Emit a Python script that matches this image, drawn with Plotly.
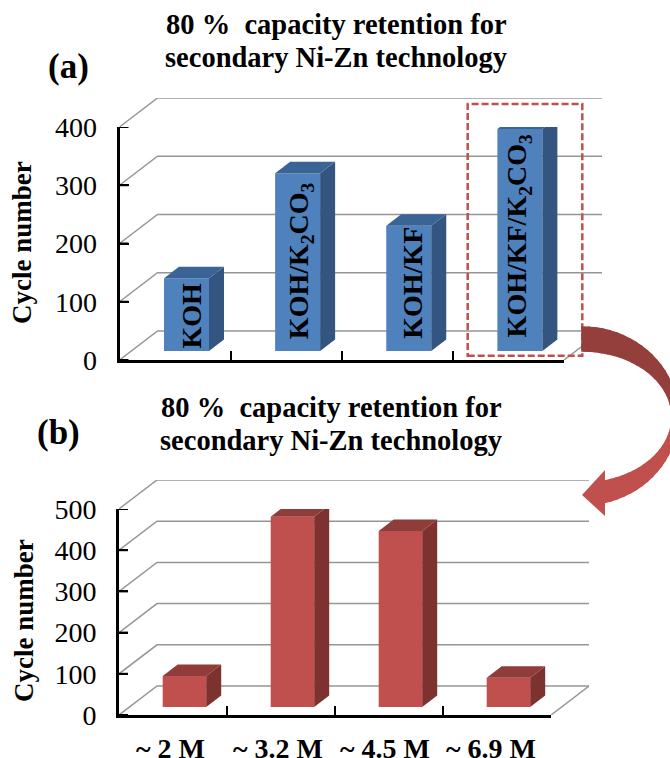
import numpy as np
import plotly.graph_objects as go

W, H = 670, 758
FONT = "Liberation Serif"

# ---- data ----
cats_a = ["KOH", "KOH/K<sub>2</sub>CO<sub>3</sub>", "KOH/KF", "KOH/KF/K<sub>2</sub>CO<sub>3</sub>"]
vals_a = [125, 305, 215, 381]
ticks_a = [0, 100, 200, 300, 400]

cats_b = ["~ 2 M", "~ 3.2 M", "~ 4.5 M", "~ 6.9 M"]
vals_b = [75, 462, 427, 71]
ticks_b = [0, 100, 200, 300, 400, 500]

title_1 = "80 %\u00a0\u00a0capacity retention for"
title_2 = "secondary Ni-Zn technology"
y_title = "Cycle number"

BLUE = dict(front="#4f81bd", side="#34557f", top="#3b6496")
RED = dict(front="#c0504d", side="#7d3230", top="#8f3c3b")
GRID = "#969696"


def px(x):
    return x / W


def py(y):
    return 1 - y / H


fig = go.Figure()
shapes, notes = [], []


def panel(idx, cats, vals, ticks, x0, xend, y0, ytop, wall_dx, wall_dy, bar_dx, bar_dy,
          bar_left, bar_w, bar_base, colors):
    """pixel geometry only sets the axes' domains; marks use the data scales."""
    ncat = len(cats)
    xs = (xend - x0) / ncat            # px per category
    ys = (y0 - ytop) / ticks[-1]       # px per unit
    xa = [f"x{idx+1}" if idx else "x", f"x{idx+2}"]
    ya = [f"y{idx+1}" if idx else "y", f"y{idx+2}"]
    dom_x = [px(x0), px(xend)]
    dom_y = [py(y0), py(ytop)]

    # walls, in the first (lower) subplot
    ddx, ddy = wall_dx / xs, wall_dy / ys
    gx, gy = [], []
    for v in ticks:
        gx += [0, ddx, ncat + ddx, None]
        gy += [v, v + ddy, v + ddy, None]
    gx += [ncat, ncat + ddx, None]
    gy += [0, ddy, None]
    fig.add_trace(go.Scatter(x=gx, y=gy, mode="lines", xaxis=xa[0], yaxis=ya[0], cliponaxis=False,
                             line=dict(color=GRID, width=1.5), hoverinfo="skip", showlegend=False))

    # bars
    base = bar_base / ys
    width = bar_w / xs
    off = (bar_left - x0) / xs
    centers = [i + off + width / 2 for i in range(ncat)]
    fig.add_trace(go.Bar(x=centers, y=vals, base=[base] * ncat, width=width, xaxis=xa[1], yaxis=ya[1],
                         cliponaxis=False, marker=dict(color=colors["front"], line=dict(width=0)),
                         showlegend=False, hoverinfo="y"))
    bdx, bdy = bar_dx / xs, bar_dy / ys
    for c, v in zip(centers, vals):
        l, r, b, t = c - width / 2, c + width / 2, base, base + v
        fig.add_trace(go.Scatter(x=[r, r + bdx, r + bdx, r, r], y=[b, b + bdy, t + bdy, t, b], mode="lines",
                                 fill="toself", fillcolor=colors["side"], line=dict(width=0),
                                 xaxis=xa[1], yaxis=ya[1], cliponaxis=False, hoverinfo="skip", showlegend=False))
        fig.add_trace(go.Scatter(x=[l, r, r + bdx, l + bdx, l], y=[t, t, t + bdy, t + bdy, t], mode="lines",
                                 fill="toself", fillcolor=colors["top"], line=dict(width=0),
                                 xaxis=xa[1], yaxis=ya[1], cliponaxis=False, hoverinfo="skip", showlegend=False))

    # short inward marks at each value tick
    tx, ty = [], []
    for v in ticks:
        tx += [0, 9 / xs, None]
        ty += [v, v, None]
    fig.add_trace(go.Scatter(x=tx, y=ty, mode="lines", xaxis=xa[1], yaxis=ya[1], cliponaxis=False,
                             line=dict(color="black", width=2), hoverinfo="skip", showlegend=False))

    # axes
    wall_xdom = [px(x0), px(xend + wall_dx)]
    wall_ydom = [py(y0), py(ytop - wall_dy)]
    lay = {}
    sfx = lambda n: "" if n == 1 else str(n)
    lay[f"xaxis{sfx(idx+1)}"] = dict(domain=wall_xdom, range=[0, ncat + ddx], visible=False, anchor=ya[0])
    lay[f"yaxis{sfx(idx+1)}"] = dict(domain=wall_ydom, range=[0, ticks[-1] + ddy], visible=False, anchor=xa[0])
    lay[f"xaxis{sfx(idx+2)}"] = dict(domain=dom_x, range=[0, ncat], anchor=ya[1], showgrid=False, zeroline=False,
                                     showline=True, linecolor="black", linewidth=3,
                                     tickmode="array", tickvals=list(range(ncat + 1)), showticklabels=False,
                                     ticks="inside", ticklen=9, tickwidth=2, tickcolor="black")
    lay[f"yaxis{sfx(idx+2)}"] = dict(domain=dom_y, range=[0, ticks[-1]], anchor=xa[1], showgrid=False, zeroline=False,
                                     showline=True, linecolor="black", linewidth=3,
                                     tickmode="array", tickvals=ticks,
                                     ticktext=[f"{v}\u00a0\u00a0" for v in ticks],
                                     ticks="inside", ticklen=9, tickwidth=2, tickcolor="black",
                                     tickfont=dict(family=FONT, size=28, color="black"))
    fig.update_layout(**lay)
    return xa[1], ya[1], centers, base


# panel (a)
xa, ya, ca, ba = panel(1 - 1, cats_a, vals_a, ticks_a, 119.5, 564, 360, 127, 38, 29, 15, 11.5, 164, 45, 9, BLUE)
pad_a = [0, 10, 10, 12]
shift_a = [4, 3, 3, -1]
for c, t, p, s in zip(ca, cats_a, pad_a, shift_a):
    notes.append(dict(x=c, y=ba, xref=xa, yref=ya, text=f"<b>{t}</b>", textangle=-90, showarrow=False,
                      xanchor="center", yanchor="bottom", yshift=p, xshift=s,
                      font=dict(family=FONT, size=28, color="black")))

# panel (b)
xb, yb, cb, bb = panel(3 - 1, cats_b, vals_b, ticks_b, 119, 551, 715, 509, 38, 29, 15, 11.5, 162.7, 43.5, 8, RED)
shift_b = [-3, -3.5, -4, -6]
for i, (t, s) in enumerate(zip(cats_b, shift_b)):
    notes.append(dict(x=i + 0.5, y=py(748), xref=xb, yref="paper", text=f"<b>{t}</b>", showarrow=False,
                      xanchor="center", yanchor="middle", xshift=s,
                      font=dict(family=FONT, size=28, color="black")))


def label(x, y, text, size, angle=0):
    notes.append(dict(x=px(x), y=py(y), xref="paper", yref="paper", text=f"<b>{text}</b>", showarrow=False,
                      xanchor="center", yanchor="middle", textangle=angle, align="center",
                      font=dict(family=FONT, size=size, color="black")))


label(336, 24, title_1, 28.5)
label(336, 57, title_2, 28.5)
label(331, 407, title_1, 28.5)
label(331, 440, title_2, 28.5)
label(68, 67, "(a)", 35)
label(58, 432, "(b)", 35)
label(22, 243, y_title, 27, -90)
label(24, 621, y_title, 27, -90)

# dashed highlight box
shapes.append(dict(type="rect", xref="paper", yref="paper", x0=px(467.7), x1=px(582.3), y0=py(355.7), y1=py(104),
                   line=dict(color="#c0504d", width=2.5, dash="7px,3px"), layer="above"))


# curved arrow, in shaded segments
def hex_mix(a, b, f):
    ca_, cb_ = [int(a[i:i + 2], 16) for i in (1, 3, 5)], [int(b[i:i + 2], 16) for i in (1, 3, 5)]
    return "#" + "".join(f"{round(u + (v - u) * f):02x}" for u, v in zip(ca_, cb_))


N = 40
tin = np.radians(np.linspace(-90, 76, N + 1))
tout = np.radians(np.linspace(-90, 81, N + 1))
ix, iy = 582 + 90 * np.cos(tin), 417 + 66 * np.sin(tin)
ox, oy = 582 + 96 * np.cos(tout), 416 + 89 * np.sin(tout)
for k in range(N):
    f = np.clip((np.degrees(tin[k]) + 25) / 45, 0, 1)
    col = hex_mix("#953f3d", "#c0504d", f)
    pts = [(ix[k], iy[k]), (ox[k], oy[k]), (ox[k + 1], oy[k + 1]), (ix[k + 1], iy[k + 1])]
    path = "M" + " L".join(f"{px(a):.5f},{py(b):.5f}" for a, b in pts) + " Z"
    shapes.append(dict(type="path", xref="paper", yref="paper", path=path, fillcolor=col,
                       line=dict(color=col, width=1.5), layer="above"))
head = [(582, 495), (605, 470), (605, 516)]
shapes.append(dict(type="path", xref="paper", yref="paper",
                   path="M" + " L".join(f"{px(a):.5f},{py(b):.5f}" for a, b in head) + " Z",
                   fillcolor="#c0504d", line=dict(width=0), layer="above"))

fig.update_layout(width=W, height=H, autosize=False,
                  margin=dict(l=0, r=0, t=0, b=0, pad=0, autoexpand=False),
                  paper_bgcolor="white", plot_bgcolor="rgba(0,0,0,0)", showlegend=False,
                  shapes=shapes, annotations=notes, barmode="overlay")
fig.write_html("out.html", config=dict(displayModeBar=False), post_script="document.body.style.margin='0';")
